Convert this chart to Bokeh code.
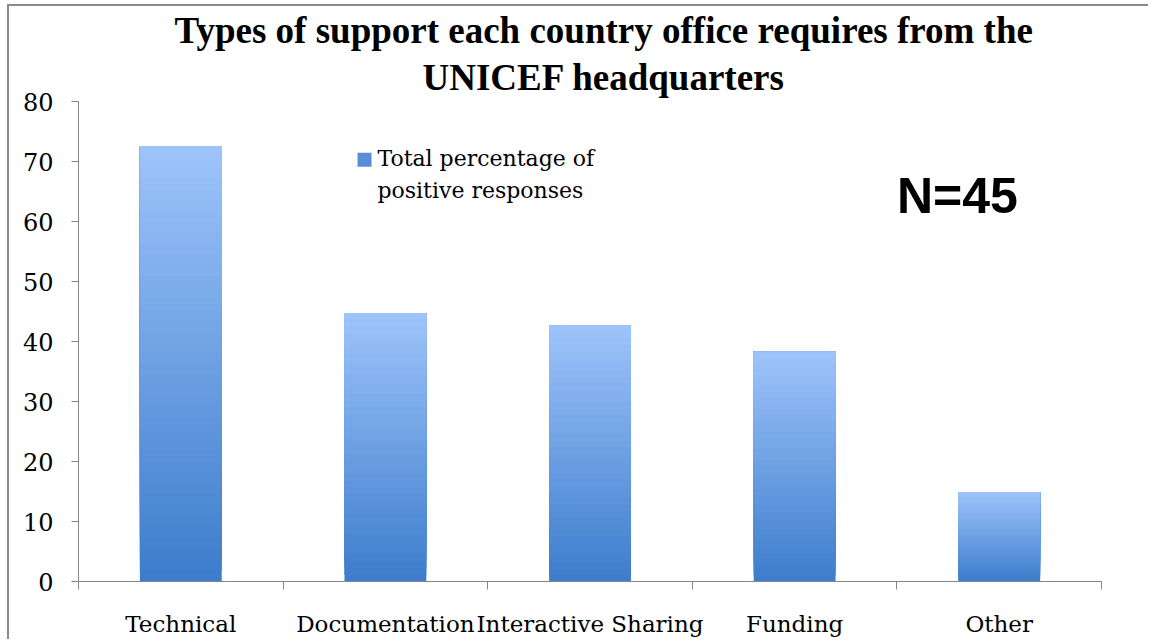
import numpy as np
from bokeh.plotting import figure
from bokeh.models import Range1d, FixedTicker, ColumnDataSource, Title
from bokeh.core.properties import value
from bokeh.embed import file_html
from bokeh.resources import INLINE

categories = ["Technical", "Documentation", "Interactive Sharing", "Funding", "Other"]
values = [72.6, 44.7, 42.7, 38.3, 14.9]
y_ticks = [0, 10, 20, 30, 40, 50, 60, 70, 80]
title_lines = ["Types of support each country office requires from the", "UNICEF headquarters"]
legend_lines = ["Total percentage of", "positive responses"]
note_text = "N=45"

SERIF = "DejaVu Serif"
GRAY = "#868686"

p = figure(output_backend="svg", toolbar_location=None,
           frame_width=1023, frame_height=480,
           x_range=Range1d(0, len(categories)), y_range=Range1d(0, 80),
           min_border_left=69, min_border_right=47, min_border_top=95, min_border_bottom=57)
p.styles = {"margin-left": "7px", "margin-top": "4px",
            "border-top": "2px solid #8a8a8a", "border-left": "2px solid #8a8a8a"}
p.background_fill_color = "white"
p.border_fill_color = "white"
p.outline_line_color = None
p.xgrid.visible = False
p.ygrid.visible = False

# gradient bars: stacked overlapping slices, dark at bottom, light at top
N = 40
c_bot = np.array([0x3d, 0x7d, 0xcc])
c_top = np.array([0x9e, 0xc4, 0xfb])
xs, bots, tops, cols = [], [], [], []
for i, v in enumerate(values):
    for k in range(N):
        t = (k + 0.5) / N
        c = (c_bot * (1 - t) + c_top * t).astype(int)
        xs.append(i + 0.5)
        bots.append(v * k / N)
        tops.append(v)
        cols.append("#%02x%02x%02x" % tuple(c))
p.vbar(x=xs, bottom=bots, top=tops, width=0.4, fill_color=cols, line_color=None)

# axes
p.xaxis.ticker = FixedTicker(ticks=[i + 0.5 for i in range(len(categories))],
                             minor_ticks=list(range(len(categories) + 1)))
p.xaxis.major_label_overrides = {i + 0.5: c for i, c in enumerate(categories)}
p.xaxis.major_tick_line_color = None
p.xaxis.major_tick_out = 0
p.xaxis.major_tick_in = 0
p.xaxis.minor_tick_out = 8
p.xaxis.minor_tick_in = 0
p.xaxis.minor_tick_line_color = GRAY
p.xaxis.major_label_standoff = 21
p.xaxis.major_label_text_font = SERIF
p.xaxis.major_label_text_font_size = "23px"
p.xaxis.major_label_text_color = "black"
p.xaxis.axis_line_color = GRAY

p.yaxis.ticker = FixedTicker(ticks=y_ticks)
p.yaxis.major_tick_out = 7
p.yaxis.major_tick_in = 0
p.yaxis.minor_tick_line_color = None
p.yaxis.major_tick_line_color = GRAY
p.yaxis.axis_line_color = GRAY
p.yaxis.major_label_standoff = 18
p.yaxis.major_label_text_font = SERIF
p.yaxis.major_label_text_font_size = "24px"
p.yaxis.major_label_text_color = "black"

# title: two lines (figure title is outermost, added title sits nearest the frame)
def style_title(t, offset, standoff):
    t.align = "left"
    t.text_font = "Liberation Serif"
    t.text_font_style = "bold"
    t.text_font_size = "37px"
    t.text_color = "black"
    t.offset = offset
    t.standoff = standoff

p.title.text = title_lines[0]
style_title(p.title, 96, 0)
t2 = Title(text=title_lines[1])
style_title(t2, 344, 8)
p.add_layout(t2, "above")

# legend
p.scatter(x=[1.398], y=[70.3], marker="square", size=14, fill_color="#5a8dd6", line_color=None)
leg = ColumnDataSource(dict(x=[1.461, 1.461], y=[70.5, 65.2], t=legend_lines))
p.text(x="x", y="y", text="t", source=leg, text_font=value(SERIF), text_font_size="22px",
       text_align="left", text_baseline="middle", text_color="black")

# N=45 note
p.text(x=[4.296], y=[64.3], text=[note_text], text_font=value("Liberation Sans"),
       text_font_style="bold", text_font_size="50px", text_align="center",
       text_baseline="middle", text_color="black")

open("out.html", "w").write(file_html(p, INLINE))
